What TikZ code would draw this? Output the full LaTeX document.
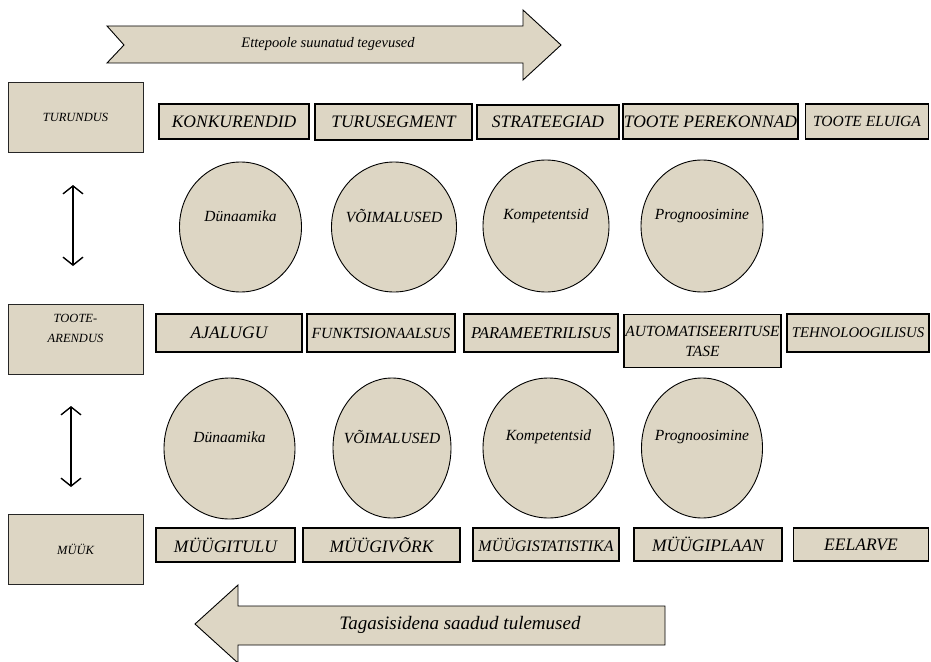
\documentclass[tikz,border=0pt]{standalone}
\usepackage{fontspec}
\setmainfont{Liberation Serif}
\newfontfamily\dfont{Liberation Serif}
\usetikzlibrary{arrows.meta,shapes.geometric}
\definecolor{tan}{RGB}{221,214,196}
\newcommand{\dsize}[1]{\dfont\fontsize{#1}{20}\selectfont\itshape}
\begin{document}
\begin{tikzpicture}[x=1pt,y=-1pt,
  areabox/.style={draw=black!85,line width=0.9pt,fill=tan,inner sep=0pt,
    font=\dsize{12.5}},
  itembox/.style={draw=black,line width=1.4pt,fill=tan,inner sep=0pt,
    font=\dsize{17.5}},
  oval/.style={draw=black,line width=0.9pt,fill=tan,ellipse,inner sep=0pt},
  ovaltext/.style={font=\dsize{15.5},inner sep=0pt},
  bigarrow/.style={draw=black,line width=0.9pt,fill=tan},
  updown/.style={line width=1.4pt,{Straight Barb[length=8pt,width=20pt]}-{Straight Barb[length=8pt,width=20pt]}}
]
\useasboundingbox (0,0) rectangle (931,661);

% forward arrow
\draw[bigarrow] (107,26) -- (523,26) -- (523,10) -- (561,45) -- (523,80)
  -- (523,63) -- (107,63) -- (124,45) -- cycle;
\node[font=\dsize{14.5}] (fwd) at (328,44) {Ettepoole suunatud tegevused};

% feedback arrow
\draw[bigarrow] (195,624) -- (238,585) -- (238,606) -- (665,606) -- (665,645)
  -- (238,645) -- (238,663) -- cycle;
\node[font=\dsize{19}] (back) at (460,625) {Tagasisidena saadud tulemused};

% areas
\node[areabox,minimum width=135pt,minimum height=70pt] (turundus) at (75.5,117) {TURUNDUS};
\node[areabox,minimum width=135pt,minimum height=70pt] (arendus) at (75.5,339) {};
\node[font=\dsize{12.5},align=center,inner sep=0pt] (arendustxt) at (75.5,328) {TOOTE-\\ARENDUS};
\node[areabox,minimum width=135pt,minimum height=70pt] (myyk) at (75.5,549) {MÜÜK};

\coordinate (a1t) at (73,185); \coordinate (a1b) at (73,266);
\coordinate (a2t) at (71,406); \coordinate (a2b) at (71,487);
\draw[updown] (a1t) -- (a1b);
\draw[updown] (a2t) -- (a2b);

% marketing row
\node[itembox,minimum width=150pt,minimum height=35pt] (r1a) at (234,121.5) {KONKURENDID};
\node[itembox,minimum width=157pt,minimum height=36pt] (r1b) at (393.5,122) {TURUSEGMENT};
\node[itembox,minimum width=142pt,minimum height=34pt] (r1c) at (548,122) {STRATEEGIAD};
\node[itembox,minimum width=175pt,minimum height=35pt] (r1d) at (710.5,121.5) {TOOTE PEREKONNAD};
\node[itembox,minimum width=123pt,minimum height=35pt,font=\dsize{15.5}] (r1e) at (867,121.5) {TOOTE ELUIGA};

% upper ovals
\node[oval,minimum width=122pt,minimum height=130pt] (o1a) at (240.5,227) {};
\node[oval,minimum width=125pt,minimum height=130pt] (o1b) at (394,227) {};
\node[oval,minimum width=126pt,minimum height=132pt] (o1c) at (546,226) {};
\node[oval,minimum width=122pt,minimum height=132pt] (o1d) at (702,226) {};
\node[ovaltext] (t1a) at (240.5,216) {Dünaamika};
\node[ovaltext] (t1b) at (394,216) {VÕIMALUSED};
\node[ovaltext] (t1c) at (546,216) {Kompetentsid};
\node[ovaltext] (t1d) at (702,216) {Prognoosimine};

% product development row
\node[itembox,minimum width=146pt,minimum height=38pt] (r2a) at (229,333) {AJALUGU};
\node[itembox,minimum width=148pt,minimum height=38pt,font=\dsize{15.5}] (r2b) at (381,333) {FUNKTSIONAALSUS};
\node[itembox,minimum width=154pt,minimum height=38pt,font=\dsize{16.5}] (r2c) at (541,333) {PARAMEETRILISUS};
\node[itembox,minimum width=157pt,minimum height=53pt,align=center,
  font=\dsize{15.5}] (r2d) at (702.5,341) {AUTOMATISEERITUSE\\TASE};
\node[itembox,minimum width=142pt,minimum height=38pt,
  font=\dsize{14.8}] (r2e) at (858,333) {TEHNOLOOGILISUS};

% lower ovals
\node[oval,minimum width=131pt,minimum height=141pt] (o2a) at (229.5,448.5) {};
\node[oval,minimum width=118pt,minimum height=140pt] (o2b) at (392,448) {};
\node[oval,minimum width=131pt,minimum height=140pt] (o2c) at (548.5,448) {};
\node[oval,minimum width=121pt,minimum height=140pt] (o2d) at (702,448) {};
\node[ovaltext] (t2a) at (229.5,437) {Dünaamika};
\node[ovaltext] (t2b) at (392,437) {VÕIMALUSED};
\node[ovaltext] (t2c) at (548.5,437) {Kompetentsid};
\node[ovaltext] (t2d) at (702,437) {Prognoosimine};

% sales row
\node[itembox,minimum width=139pt,minimum height=34pt] (r3a) at (225.5,545) {MÜÜGITULU};
\node[itembox,minimum width=157pt,minimum height=34pt] (r3b) at (381.5,545) {MÜÜGIVÕRK};
\node[itembox,minimum width=146pt,minimum height=33pt,font=\dsize{16}] (r3c) at (546,544.5) {MÜÜGISTATISTIKA};
\node[itembox,minimum width=148pt,minimum height=33pt] (r3d) at (708,544.5) {MÜÜGIPLAAN};
\node[itembox,minimum width=135pt,minimum height=33pt] (r3e) at (861,544.5) {EELARVE};
\end{tikzpicture}
\end{document}
